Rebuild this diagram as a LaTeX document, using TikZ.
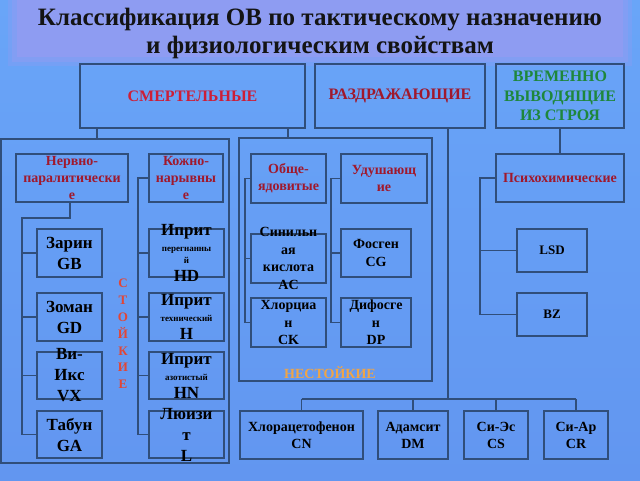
\documentclass[tikz,border=0pt]{standalone}
\usepackage{fontspec}
\setmainfont{Liberation Serif}
\definecolor{linec}{RGB}{48,78,122}
\definecolor{bgtop}{RGB}{105,165,248}
\definecolor{bgmid}{RGB}{240,230,246}
\definecolor{bgbot}{RGB}{98,150,240}
\definecolor{band}{RGB}{150,155,242}
\definecolor{redh}{RGB}{205,30,55}
\definecolor{redd}{RGB}{160,24,44}
\definecolor{greenh}{RGB}{30,135,60}
\definecolor{stred}{RGB}{225,70,55}
\definecolor{orng}{RGB}{240,165,70}
\newcommand\mkbox[5]{%
  \node[box, minimum width={(#4-#2)*1pt}, minimum height={(#5-#3)*1pt}] (#1) at ({(#2+#4)/2},{(#3+#5)/2}) {};}
\begin{document}
\begin{tikzpicture}[x=1pt,y=-1pt,
  box/.style={draw=linec,line width=1.2pt,inner sep=0pt,outer sep=0pt},
  conn/.style={draw=linec,line width=1.2pt},
  hdr/.style={font=\bfseries\fontsize{16}{19.5}\selectfont,align=center},
  sub/.style={font=\bfseries\fontsize{14}{17}\selectfont,align=center,text=redd},
  agl/.style={font=\bfseries\fontsize{17}{21}\selectfont,align=center,text=black},
  agm/.style={font=\bfseries\fontsize{14}{17.5}\selectfont,align=center,text=black},
  ags/.style={font=\bfseries\fontsize{13}{17}\selectfont,align=center,text=black},
  agb/.style={font=\bfseries\fontsize{14}{17}\selectfont,align=center,text=black}
  ]
\useasboundingbox (0,0) rectangle (640,480);
\shade[top color=bgtop, middle color=bgmid, bottom color=bgbot] (0,0) rectangle (640,480);
% title band
\fill[band,opacity=0.3] (8,0) rectangle (632,66);
\fill[band,opacity=0.4] (12,0) rectangle (628,62);
\fill[band,opacity=0.6] (17,0) rectangle (623,57);

% title
\node[font=\bfseries\fontsize{25}{28}\selectfont,align=center,text=black!92] (title) at (320,33)
  {Классификация ОВ по тактическому назначению\\и физиологическим свойствам};

% top headers
\mkbox{smert}{80}{64}{305}{128}
\node[hdr,text=redh] (smertt) at (smert) {СМЕРТЕЛЬНЫЕ};
\mkbox{razd}{315}{64}{485}{128}
\node[hdr,text=redd] (razdt) at (razd) {РАЗДРАЖАЮЩИЕ};
\mkbox{vrem}{496}{64}{624}{128}
\node[hdr,text=greenh] (vremt) at (vrem) {ВРЕМЕННО\\ВЫВОДЯЩИЕ\\ИЗ СТРОЯ};

% containers
\mkbox{leftc}{1}{139}{229}{463}
\mkbox{midc}{239}{138}{432}{381}

% left container
\mkbox{nerv}{16}{154}{128}{202}
\node[sub] (nervt) at (nerv) {Нервно-\\паралитически\\е};
\mkbox{kozh}{149}{154}{223}{202}
\node[sub] (kozht) at (kozh) {Кожно-\\нарывны\\е};
\mkbox{zarin}{37}{229}{102}{277}
\node[agl] (zarint) at (zarin) {Зарин\\GB};
\mkbox{zoman}{37}{293}{102}{341}
\node[agl] (zomant) at (zoman) {Зоман\\GD};
\mkbox{vx}{37}{352}{102}{399}
\node[agl] (vxt) at (vx) {Ви-\\Икс\\VX};
\mkbox{tabun}{37}{411}{102}{458}
\node[agl] (tabunt) at (tabun) {Табун\\GA};
\mkbox{hd}{149}{229}{224}{277}
\node[agl] (hdt) at (hd) {Иприт\\[-5pt]{\fontsize{9}{10}\selectfont перегнанны}\\[-9pt]{\fontsize{9}{10}\selectfont й}\\[-3pt]HD};
\mkbox{hh}{149}{293}{224}{341}
\node[agl] (hht) at (hh) {Иприт\\[-5pt]{\fontsize{9}{10}\selectfont технический}\\[-3pt]H};
\mkbox{hn}{149}{352}{224}{399}
\node[agl] (hnt) at (hn) {Иприт\\[-5pt]{\fontsize{9}{10}\selectfont азотистый}\\[-3pt]HN};
\mkbox{luiz}{149}{411}{224}{458}
\node[agl] (luizt) at (luiz) {Люизи\\т\\L};
\node[font=\bfseries\fontsize{13}{16.8}\selectfont,text=stred,align=center] (stoik) at (123,334)
  {С\\Т\\О\\Й\\К\\И\\Е};

% middle container
\mkbox{obsh}{251}{154}{326}{203}
\node[sub] (obsht) at (obsh) {Обще-\\ядовитые};
\mkbox{udush}{341}{154}{427}{203}
\node[sub] (udusht) at (udush) {Удушающ\\ие};
\mkbox{sinil}{251}{234}{326}{283}
\node[agm] (sinilt) at (sinil) {Синильн\\ая\\кислота\\AC};
\mkbox{hlorc}{251}{298}{326}{347}
\node[agm] (hlorct) at (hlorc) {Хлорциа\\н\\CK};
\mkbox{fosg}{341}{229}{411}{277}
\node[agm] (fosgt) at (fosg) {Фосген\\CG};
\mkbox{difos}{341}{298}{411}{347}
\node[agm] (difost) at (difos) {Дифосге\\н\\DP};
\node[font=\bfseries\fontsize{14}{16}\selectfont,text=orng] (nestoik) at (330,373) {НЕСТОЙКИЕ};

% right column
\mkbox{psych}{496}{154}{624}{202}
\node[sub] (psycht) at (psych) {Психохимические};
\mkbox{lsd}{517}{229}{587}{272}
\node[ags] (lsdt) at (lsd) {LSD};
\mkbox{bz}{517}{293}{587}{336}
\node[ags] (bzt) at (bz) {BZ};

% bottom row
\mkbox{chl}{240}{411}{363}{459}
\node[agb] (chlt) at (chl) {Хлорацетофенон\\CN};
\mkbox{adam}{378}{411}{448}{459}
\node[agb] (adamt) at (adam) {Адамсит\\DM};
\mkbox{cs}{464}{411}{528}{459}
\node[agb] (cst) at (cs) {Си-Эс\\CS};
\mkbox{cr}{544}{411}{608}{459}
\node[agb] (crt) at (cr) {Си-Ар\\CR};

% connectors
\draw[conn] ([xshift=17pt]smert.south west) -- ([xshift=17pt]smert.south west |- leftc.north);
\draw[conn] ([xshift=208pt]smert.south west) -- ([xshift=208pt]smert.south west |- midc.north);
\draw[conn] (vrem.south) -- (psych.north);

\coordinate (bus) at (448,399);
\draw[conn] ([xshift=133pt]razd.south west) -- (bus);
\draw[conn] (bus -| chl.north) -- (bus -| cr.north);
\foreach \b in {chl,adam,cs,cr} \draw[conn] (bus -| \b.north) -- (\b.north);

\coordinate (ntr) at (22,218);
\draw[conn] ([xshift=54pt]nerv.south west) |- (ntr) |- (tabun.west);
\foreach \b in {zarin,zoman,vx} \draw[conn] (ntr) |- (\b.west);

\draw[conn] (kozh.west) -- ++(-11,0) |- (luiz.west);
\foreach \b in {hd,hh,hn} \draw[conn] ([xshift=-11pt]kozh.west) |- (\b.west);

\draw[conn] (obsh.west) -- ++(-6,0) |- (hlorc.west);
\draw[conn] ([xshift=-6pt]obsh.west) |- (sinil.west);

\draw[conn] (udush.west) -- ++(-10,0) |- (difos.west);
\draw[conn] ([xshift=-10pt]udush.west) |- (fosg.west);

\draw[conn] (psych.west) -- ++(-16,0) |- (bz.west);
\draw[conn] ([xshift=-16pt]psych.west) |- (lsd.west);
\end{tikzpicture}
\end{document}
